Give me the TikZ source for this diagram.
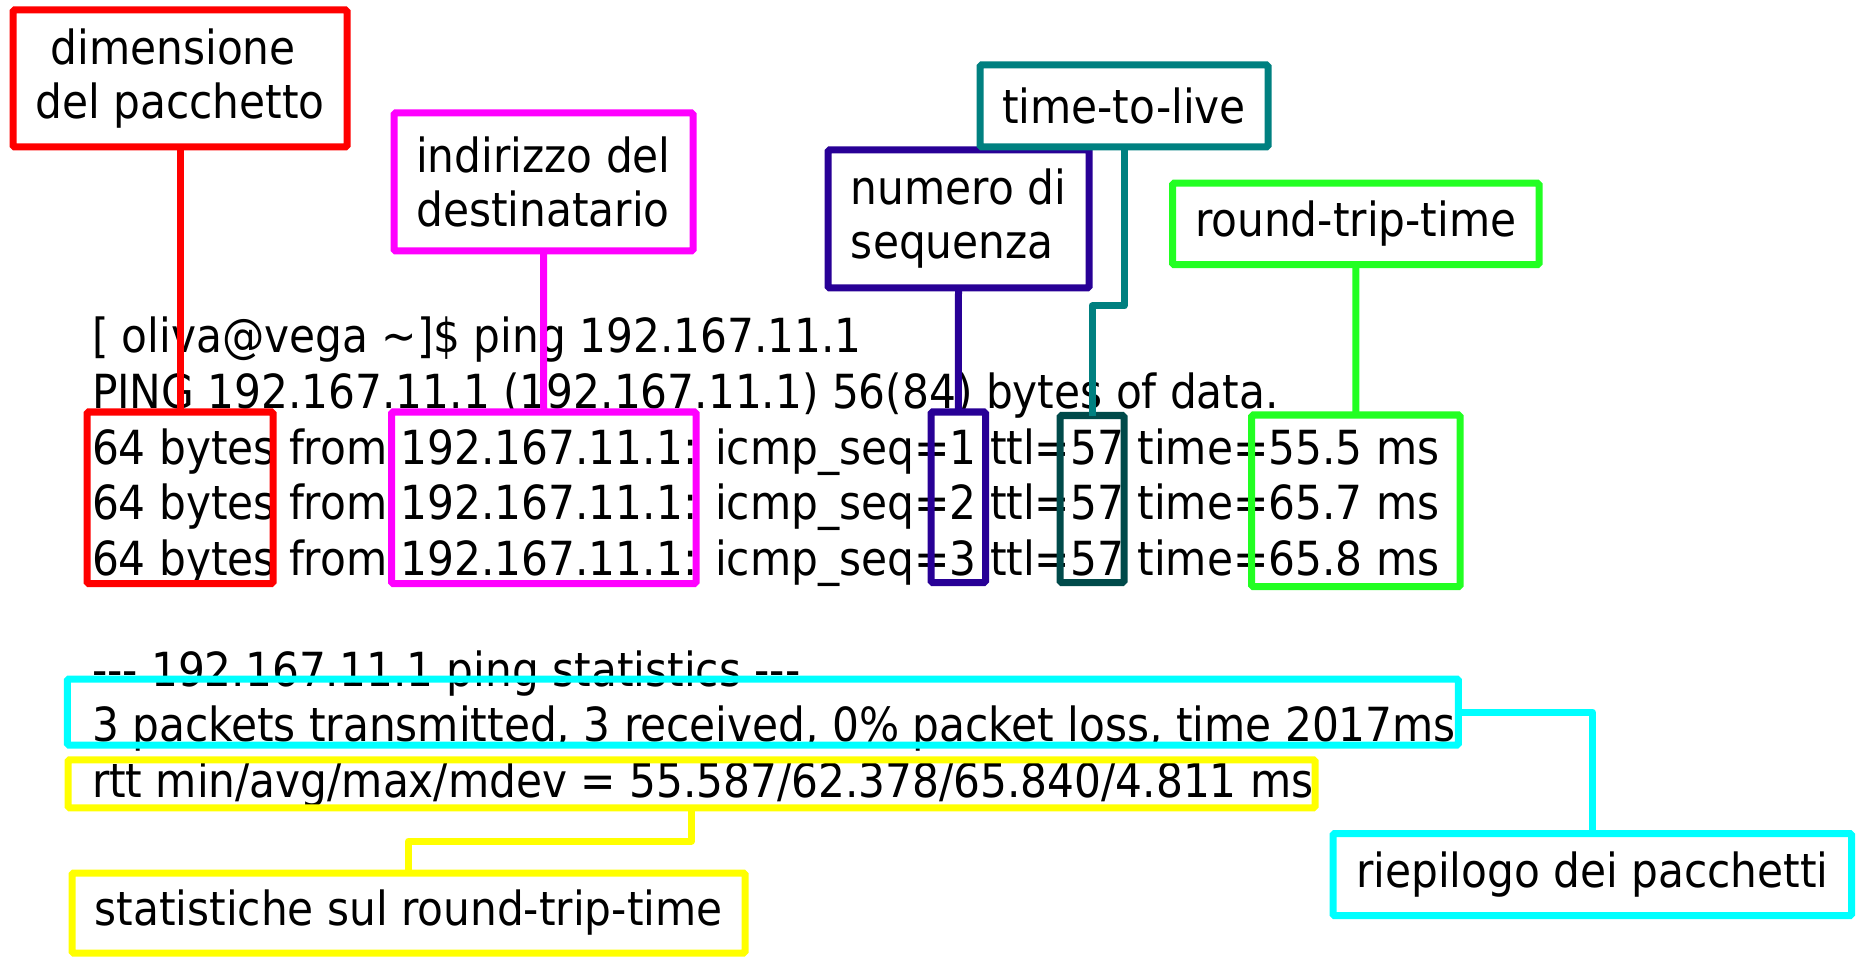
\documentclass[tikz,border=0pt]{standalone}
\usepackage{fontspec}
\setmainfont{DejaVu Sans Condensed}
\definecolor{cRed}{RGB}{255,0,0}
\definecolor{cMag}{RGB}{255,0,255}
\definecolor{cInd}{RGB}{40,0,150}
\definecolor{cTeal}{RGB}{0,128,128}
\definecolor{cDTeal}{RGB}{0,74,74}
\definecolor{cGreen}{RGB}{34,255,34}
\definecolor{cCyan}{RGB}{0,255,255}
\definecolor{cYel}{RGB}{255,255,0}
\newcommand{\termsize}{\fontsize{47}{54}\selectfont}
\begin{document}
\begin{tikzpicture}[x=1pt,y=-1pt,
  termline/.style={anchor=base west,inner sep=0pt,outer sep=0pt,font=\termsize},
  callout/.style={draw,line width=7pt,rectangle,rounded corners=1.5pt,inner sep=0pt,outer sep=0pt,font=\termsize},
  frame/.style={draw,line width=7pt,rectangle,rounded corners=1.5pt,inner sep=0pt,outer sep=0pt},
  link/.style={line width=7pt,line join=round}]
\useasboundingbox[fill=white] (0,0) rectangle (1858,957);

% terminal output
\node[termline] (l1) at (92,353) {[ oliva@vega \textasciitilde]\$ ping 192.167.11.1};
\node[termline] (l2) at (92,408.5) {PING 192.167.11.1 (192.167.11.1) 56(84) bytes of data.};
\node[termline] (l3) at (92,464) {64 bytes from 192.167.11.1: icmp\_seq=1 ttl=57 time=55.5 ms};
\node[termline] (l4) at (92,519.5) {64 bytes from 192.167.11.1: icmp\_seq=2 ttl=57 time=65.7 ms};
\node[termline] (l5) at (92,575) {64 bytes from 192.167.11.1: icmp\_seq=3 ttl=57 time=65.8 ms};
\node[termline] (l6) at (92,686) {-{}-{}- 192.167.11.1 ping statistics -{}-{}-};
\node[termline] (l7) at (92,741.5) {3 packets transmitted, 3 received, 0\% packet loss, time 2017ms};
\node[termline] (l8) at (92,797) {rtt min/avg/max/mdev = 55.587/62.378/65.840/4.811 ms};

% frames around fields of the output
\node[frame,cRed,minimum width=186pt,minimum height=171.5pt] (bytesbox) at (180,497.75) {};
\node[frame,cMag,minimum width=304.5pt,minimum height=171.5pt] (ipbox) at (543.75,497.75) {};
\node[frame,cInd,minimum width=54.5pt,minimum height=170.5pt] (seqbox) at (958.25,497.25) {};
\node[frame,cDTeal,minimum width=64pt,minimum height=167pt] (ttlbox) at (1092,499) {};
\node[frame,cGreen,minimum width=208.3pt,minimum height=171.7pt] (timebox) at (1355.85,500.85) {};
\node[frame,cCyan,minimum width=1391pt,minimum height=66pt] (sumbox) at (762.9,712) {};
\node[frame,cYel,minimum width=1247pt,minimum height=48pt] (rttbox) at (691.5,783.75) {};

% explanatory labels
\node[callout,cRed,text=black,align=center,minimum width=334pt,minimum height=137pt] (dim) at (180,78.5) {dimensione\kern13.5pt\\del pacchetto};
\node[callout,cMag,text=black,align=left,minimum width=299pt,minimum height=138pt] (dest) at (543.5,182) {indirizzo del\\destinatario};
\node[callout,cInd,text=black,align=left,minimum width=261pt,minimum height=138pt] (seq) at (958.5,219) {numero di\\sequenza};
\node[callout,cTeal,text=black,minimum width=288pt,minimum height=82pt] (ttl) at (1124,106) {time-to-live};
\node[callout,cGreen,text=black,minimum width=366.5pt,minimum height=81.5pt] (rtt) at (1355.75,224) {round-trip-time};
\node[callout,cCyan,text=black,minimum width=518.6pt,minimum height=82pt] (riep) at (1592.3,874.6) {riepilogo dei pacchetti};
\node[callout,cYel,text=black,minimum width=673pt,minimum height=80pt] (stat) at (408.5,913) {statistiche sul round-trip-time};

% connectors
\coordinate (ttlbend) at (1122,306);
\coordinate (ybend) at (550,841);
\draw[link,cRed] (dim.south) -- (bytesbox.north);
\draw[link,cMag] (dest.south) -- (ipbox.north);
\draw[link,cInd] (seq.south) -- (seqbox.north);
\draw[link,cTeal] (ttl.south) -- (ttl.south |- ttlbend) -- (ttlbox.north |- ttlbend) -- (ttlbox.north);
\draw[link,cGreen] (rtt.south) -- (timebox.north);
\draw[link,cCyan] (sumbox.east) -| (riep.north);
\draw[link,cYel] (rttbox.south) -- (rttbox.south |- ybend) -- (stat.north |- ybend) -- (stat.north);
\end{tikzpicture}
\end{document}
